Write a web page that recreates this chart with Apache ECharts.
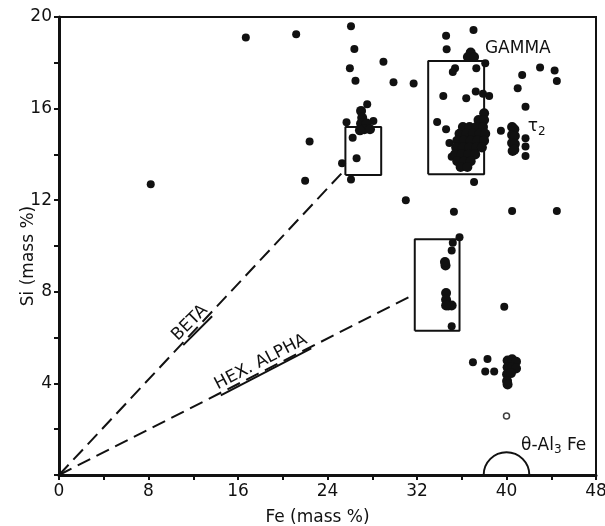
<!DOCTYPE html>
<html lang="en">
<head>
    <meta charset="UTF-8">
    <title>Si vs Fe</title>
    <style>
        body { margin: 0; overflow: hidden; background: #fff; }
        #chart { width: 605px; height: 526px; }
    </style>
</head>
<body>
    <div id="chart"></div>
    <script src="https://cdn.jsdelivr.net/npm/echarts@6/dist/echarts.min.js"></script>
    <script>
        // axis ticks
        var feTicks = [0, 8, 16, 24, 32, 40, 48];
        var siTicks = [4, 8, 12, 16, 20];

        // single measured points [Fe, Si]
        var spots = [
            [8.2, 12.7], [16.7, 19.1], [21.2, 19.25], [22.0, 12.85], [22.4, 14.56],
            [26.1, 19.6], [26.4, 18.6], [29.0, 18.05], [26.0, 17.76], [26.5, 17.22], [29.9, 17.15], [31.7, 17.1],
            [27.55, 16.19], [25.7, 15.4], [28.1, 15.46], [26.25, 14.73], [26.6, 13.83], [25.3, 13.61], [26.1, 12.9], [31.0, 12.0],
            [34.6, 19.18], [37.05, 19.43], [34.65, 18.59], [35.4, 17.76], [35.2, 17.6], [37.3, 17.76], [38.1, 17.98],
            [34.35, 16.55], [36.4, 16.45], [37.25, 16.75], [37.9, 16.65], [38.45, 16.55],
            [33.8, 15.42], [34.6, 15.1], [34.9, 14.5], [35.1, 13.9], [37.1, 12.8],
            [39.5, 15.03], [41.7, 14.7], [41.7, 14.34], [41.7, 13.93], [41.7, 16.08], [41.0, 16.89], [41.4, 17.47],
            [43.0, 17.8], [44.3, 17.66], [44.5, 17.2],
            [35.3, 11.5], [40.5, 11.53], [44.5, 11.53],
            [35.8, 10.38], [35.2, 10.14], [35.1, 9.8], [35.1, 6.5], [39.8, 7.35],
            [37.0, 4.92], [38.3, 5.07], [38.1, 4.52], [38.9, 4.52]
        ];

        // dense clusters, read as overlapping dots
        var betaCluster = [
            [27.0, 15.9], [27.1, 15.6], [27.0, 15.35], [27.5, 15.35], [27.3, 15.1], [27.8, 15.1], [26.9, 15.05]
        ];
        var gammaCluster = [
            [36.8, 18.45], [36.55, 18.25], [37.1, 18.25],
            [38.0, 15.8],
            [37.5, 15.5], [38.0, 15.5],
            [36.1, 15.2], [36.7, 15.2], [37.3, 15.2], [37.9, 15.2],
            [35.8, 14.9], [36.4, 14.9], [37.0, 14.9], [37.6, 14.9], [38.1, 14.9],
            [35.6, 14.6], [36.2, 14.6], [36.8, 14.6], [37.4, 14.6], [38.0, 14.6],
            [35.5, 14.3], [36.1, 14.3], [36.7, 14.3], [37.3, 14.3], [37.8, 14.3],
            [35.4, 14.0], [36.0, 14.0], [36.6, 14.0], [37.2, 14.0],
            [35.6, 13.7], [36.2, 13.7], [36.8, 13.7],
            [35.9, 13.45], [36.5, 13.45]
        ];
        var tauCluster = [
            [40.5, 15.2], [40.7, 15.1], [40.5, 14.85], [40.75, 14.8], [40.5, 14.5], [40.75, 14.45],
            [40.55, 14.15], [40.7, 14.2]
        ];
        var alphaCluster = [
            [34.55, 9.15], [34.5, 9.3], [34.6, 7.95], [34.6, 7.65], [34.8, 7.4], [35.1, 7.4], [34.6, 7.4]
        ];
        var al13Cluster = [
            [40.1, 5.0], [40.5, 5.05], [40.85, 4.95], [40.1, 4.7], [40.5, 4.7], [40.85, 4.65],
            [40.05, 4.4], [40.4, 4.45], [40.05, 4.1], [40.1, 3.95]
        ];
        var openSpots = [[40.0, 2.58]];

        // phase boxes [feMin, siMin, feMax, siMax]
        var boxes = [
            [25.6, 13.1, 28.8, 15.2],
            [33.0, 13.13, 38.0, 18.08],
            [31.8, 6.3, 35.8, 10.3]
        ];
        // dashed tie lines from origin
        var betaLine = [[0, 0], [25.5, 13.3]];
        var alphaLine = [[0, 0], [31.8, 7.9]];
        // theta-Al3Fe region: [Fe, Si, radius in Fe]
        var thetaArc = [[40.0, 0, 2.04]];

        // annotations [Fe, Si], rotation in degrees
        var labels = [
            { text: 'BETA', pos: [11.7, 6.64], rot: 45, underline: true },
            { text: 'HEX. ALPHA', pos: [18.05, 4.93], rot: 27.5, underline: true },
            { text: '{a|GAMMA}', pos: [38.07, 18.6], rot: 0, left: true },
            { text: '{a|τ}{s|2}', pos: [41.9, 15.2], rot: 0, left: true },
            { text: '{a|θ-Al}{s|3}{a| Fe}', pos: [41.3, 1.3], rot: 0, left: true }
        ];

        var FONT = 'DejaVu Sans';
        var ink = '#111';

        var clusterDots = betaCluster.concat(gammaCluster, tauCluster, alphaCluster, al13Cluster);

        var boxSeries = boxes.map(function (b) {
            return {
                type: 'line',
                data: [[b[0], b[1]], [b[2], b[1]], [b[2], b[3]], [b[0], b[3]], [b[0], b[1]]],
                symbol: 'none',
                lineStyle: { color: ink, width: 2 },
                silent: true,
                z: 3
            };
        });

        var myChart = echarts.init(document.getElementById('chart'));

        var option = {
            backgroundColor: '#fff',
            animation: false,
            grid: {
                left: 59,
                right: 9,
                top: 17,
                bottom: 51,
                outerBoundsMode: 'none',
                show: true,
                borderColor: ink,
                borderWidth: 2
            },
            xAxis: {
                type: 'value',
                min: 0,
                max: 48,
                interval: 4,
                name: 'Fe (mass %)',
                nameLocation: 'middle',
                nameGap: 34,
                nameMoveOverlap: false,
                nameTextStyle: { fontFamily: FONT, fontSize: 17, color: ink, padding: [0, 20, 0, 0] },
                axisLine: { lineStyle: { color: ink, width: 3 } },
                axisTick: { length: 5, lineStyle: { color: ink, width: 2 } },
                axisLabel: {
                    fontFamily: FONT, fontSize: 17, color: ink, margin: 8,
                    formatter: function (v) { return feTicks.indexOf(v) >= 0 ? String(v) : ''; }
                },
                splitLine: { show: false }
            },
            yAxis: {
                type: 'value',
                min: 0,
                max: 20,
                interval: 2,
                name: 'Si (mass %)',
                nameLocation: 'middle',
                nameGap: 22,
                nameMoveOverlap: false,
                nameTextStyle: { fontFamily: FONT, fontSize: 17, color: ink, padding: [0, 20, 0, 0] },
                axisLine: { lineStyle: { color: ink, width: 3 } },
                axisTick: { length: 5, lineStyle: { color: ink, width: 2 } },
                axisLabel: {
                    fontFamily: FONT, fontSize: 17, color: ink, margin: 7,
                    formatter: function (v) { return siTicks.indexOf(v) >= 0 ? String(v) : ''; }
                },
                splitLine: { show: false }
            },
            series: [
                {
                    type: 'scatter',
                    data: spots,
                    symbolSize: 8,
                    itemStyle: { color: ink, opacity: 1 },
                    z: 5
                },
                {
                    type: 'scatter',
                    data: clusterDots,
                    symbolSize: 10,
                    itemStyle: { color: ink, opacity: 1 },
                    z: 5
                },
                {
                    type: 'scatter',
                    data: openSpots,
                    symbolSize: 6,
                    itemStyle: { color: '#fff', borderColor: ink, borderWidth: 1.5 },
                    z: 5
                },
                {
                    type: 'line',
                    data: betaLine,
                    symbol: 'none',
                    lineStyle: { color: ink, width: 2, type: [14, 7] },
                    silent: true
                },
                {
                    type: 'line',
                    data: alphaLine,
                    symbol: 'none',
                    lineStyle: { color: ink, width: 2, type: [14, 7] },
                    silent: true
                },
                {
                    type: 'custom',
                    data: thetaArc,
                    silent: true,
                    clip: false,
                    renderItem: function (params, api) {
                        var c = api.coord([api.value(0), api.value(1)]);
                        var r = api.size([api.value(2), 0])[0];
                        return {
                            type: 'arc',
                            shape: { cx: c[0], cy: c[1], r: r, startAngle: Math.PI, endAngle: Math.PI * 2, clockwise: true },
                            style: { stroke: ink, fill: null, lineWidth: 2 }
                        };
                    }
                }
            ].concat(boxSeries)
        };

        myChart.setOption(option);

        // place rotated / underlined annotations at data positions
        var graphics = labels.map(function (l) {
            var p = myChart.convertToPixel({ gridIndex: 0 }, l.pos);
            var children = [];
            if (l.left) {
                children.push({
                    type: 'text',
                    style: {
                        text: l.text,
                        x: 0, y: 0,
                        align: 'left',
                        verticalAlign: 'middle',
                        rich: {
                            a: { fontFamily: FONT, fontSize: 17, fill: ink },
                            s: { fontFamily: FONT, fontSize: 12, fill: ink, padding: [9, 0, 0, 0] }
                        }
                    }
                });
            } else {
                children.push({
                    type: 'text',
                    style: {
                        text: l.text, x: 0, y: 0,
                        align: 'center', verticalAlign: 'middle',
                        font: '17px ' + FONT, fill: ink
                    }
                });
                var half = l.text.length * 5.1;
                children.push({
                    type: 'line',
                    shape: { x1: -half, y1: 11, x2: half, y2: 11 },
                    style: { stroke: ink, lineWidth: 2 }
                });
            }
            return {
                type: 'group',
                x: p[0],
                y: p[1],
                rotation: l.rot * Math.PI / 180,
                children: children,
                z: 10
            };
        });

        myChart.setOption({ graphic: graphics });
    </script>
</body>
</html>
